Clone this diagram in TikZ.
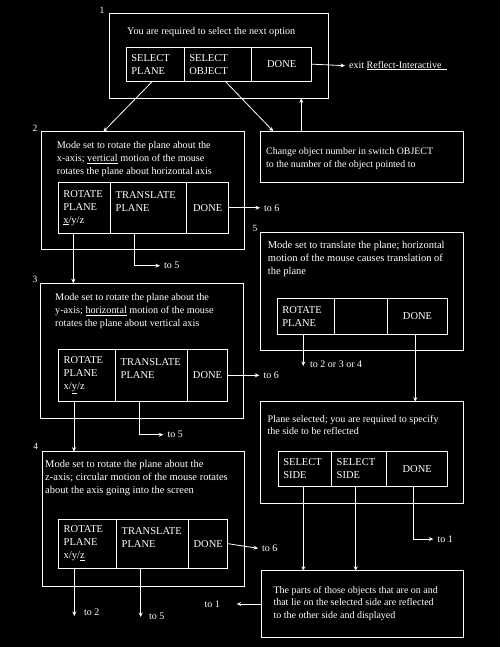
\documentclass[tikz,border=0pt]{standalone}
\usepackage{fontspec}
\setmainfont{Liberation Serif}
\usetikzlibrary{arrows.meta,positioning}
\definecolor{ink}{HTML}{FFFFFF}
\definecolor{paper}{HTML}{000000}
\tikzset{
  frame/.style   ={draw=ink,line width=0.8pt,anchor=north west,inner sep=0pt,outer sep=0pt},
  cell/.style    ={draw=ink,line width=0.8pt,inner xsep=5pt,inner ysep=0pt,outer sep=0pt,
                   align=left,text=ink,font=\fontsize{10.5}{13}\selectfont},
  donecell/.style={cell,inner xsep=2pt,align=center},
  txt/.style     ={text=ink,align=left,anchor=north west,inner sep=0pt,
                   font=\fontsize{10.2}{12.8}\selectfont},
  tag/.style     ={text=ink,anchor=west,inner xsep=4pt,inner ysep=1pt,
                   font=\fontsize{10}{11}\selectfont},
  num/.style     ={text=ink,inner sep=0pt,font=\fontsize{9.5}{11}\selectfont},
  link/.style    ={-{Stealth[length=4.5pt,width=4pt]},line width=0.8pt,draw=ink}
}

\begin{document}
\begin{tikzpicture}[x=1pt,y=-1pt]
        \fill[paper] (0,0) rectangle (500,647);
        % 1: main menu
        \node[num] (n1) at (102,10) {1};
        \node[frame,minimum width=219.4pt,minimum height=85pt] (b1) at (109.3,13.3) {};
        \node[txt] (t1) at (127,27.6) {You are required to select the next option};
        \node[cell,text width=48pt,minimum height=33.7pt,anchor=north west] (b1pl) at (126.3,47.3) {SELECT\\PLANE};
        \node[cell,text width=57.4pt,minimum height=33.7pt,right=0pt of b1pl] (b1ob) {SELECT\\OBJECT};
        \node[donecell,text width=56pt,minimum height=33.7pt,right=0pt of b1ob] (b1done) {DONE};
        \node[tag] (exit) at (345,65.7) {exit \underline{Reflect-Interactive\hspace{5pt}}};
        % change object
        \node[frame,minimum width=203pt,minimum height=51pt] (bc) at (260.3,131.3) {};
        \node[txt,font=\fontsize{9.9}{13.7}\selectfont] (tc) at (266,147.1)
          {Change object number in switch OBJECT\\to the number of the object pointed to};
        % 2: rotate about x
        \node[num] (n2) at (35,128) {2};
        \node[frame,minimum width=202.6pt,minimum height=117.3pt] (b2) at (41.7,131.7) {};
        \node[txt] (t2) at (56.7,141.3)
          {Mode set to rotate the plane about the\\x-axis; \underline{vertical} motion of the mouse\\rotates the plane about horizontal axis};
        \node[cell,text width=42.4pt,minimum height=51pt,anchor=north west] (b2rot) at (58.3,182.3) {ROTATE\\PLANE\\\underline{x}/y/z};
        \node[cell,text width=66pt,minimum height=51pt,right=0pt of b2rot] (b2tr) {TRANSLATE\\PLANE\\\mbox{}};
        \node[donecell,text width=38pt,minimum height=51pt,right=0pt of b2tr] (b2done) {DONE};
        \node[tag] (t26) at (260,207.8) {to 6};
        \node[tag] (t25) at (160,265.7) {to 5};
        % 5: translate
        \node[num] (n5) at (255,228) {5};
        \node[frame,minimum width=203pt,minimum height=117.3pt] (b5) at (260.7,232.7) {};
        \node[txt,font=\fontsize{10.5}{12.7}\selectfont] (t5) at (267.7,241.2)
          {Mode set to translate the plane; horizontal\\motion of the mouse causes translation of\\the plane};
        \node[cell,text width=47pt,minimum height=36pt,anchor=north west] (b5rot) at (277.3,298.3) {ROTATE\\PLANE};
        \node[cell,text width=43pt,minimum height=36pt,right=0pt of b5rot] (b5mid) {};
        \node[donecell,text width=56.4pt,minimum height=36pt,right=0pt of b5mid] (b5done) {DONE};
        \coordinate (e5) at (303.3,366);
        \node[tag] (t5r) at (306,364) {to 2 or 3 or 4};
        % 3: rotate about y
        \node[num] (n3) at (35,279) {3};
        \node[frame,minimum width=202.6pt,minimum height=134.7pt] (b3) at (40.7,283.3) {};
        \node[txt,font=\fontsize{10.2}{13}\selectfont] (t3) at (55,293.3)
          {Mode set to rotate the plane about the\\y-axis; \underline{horizontal} motion of the mouse\\rotates the plane about vertical axis};
        \node[cell,text width=47pt,minimum height=52pt,anchor=north west] (b3rot) at (58.7,349.3) {ROTATE\\PLANE\\x/\underline{y}/z};
        \node[cell,text width=61.6pt,minimum height=52pt,right=0pt of b3rot] (b3tr) {TRANSLATE\\PLANE\\\mbox{}};
        \node[donecell,text width=36.4pt,minimum height=52pt,right=0pt of b3tr] (b3done) {DONE};
        \node[tag] (t36) at (259.3,375.3) {to 6};
        \node[tag] (t35) at (163.3,434.7) {to 5};
        % plane selected
        \node[frame,minimum width=203pt,minimum height=101.3pt] (b6) at (260.7,401.7) {};
        \node[txt,font=\fontsize{10.1}{12.4}\selectfont] (t6) at (267.3,415.2)
          {Plane selected; you are required to specify\\the side to be reflected};
        \node[cell,text width=43.4pt,minimum height=35pt,anchor=north west] (b6s1) at (278.3,451.3) {SELECT\\SIDE};
        \node[cell,text width=45pt,minimum height=35pt,right=0pt of b6s1] (b6s2) {SELECT\\SIDE};
        \node[donecell,text width=57pt,minimum height=35pt,right=0pt of b6s2] (b6done) {DONE};
        \node[tag] (t61) at (433.3,539) {to 1};
        % 4: rotate about z
        \node[num] (n4) at (35.7,446.7) {4};
        \node[frame,minimum width=202.4pt,minimum height=134.3pt] (b4) at (42.3,451.7) {};
        \node[txt,font=\fontsize{10.5}{13}\selectfont] (t4) at (45,460.5)
          {Mode set to rotate the plane about the\\z-axis; circular motion of the mouse rotates\\about the axis going into the screen};
        \node[cell,text width=48pt,minimum height=48.7pt,anchor=north west] (b4rot) at (58.7,519.3) {ROTATE\\PLANE\\x/y/\underline{z}};
        \node[cell,text width=62pt,minimum height=48.7pt,right=0pt of b4rot] (b4tr) {TRANSLATE\\PLANE\\\mbox{}};
        \node[donecell,text width=35pt,minimum height=48.7pt,right=0pt of b4tr] (b4done) {DONE};
        \node[tag] (t46) at (258,548.3) {to 6};
        \coordinate (e42) at (74.3,616);
        \node[tag] (t42) at (80,612.7) {to 2};
        \coordinate (e45) at (140.7,617);
        \node[tag] (t45) at (145,616) {to 5};
        % reflected
        \node[frame,minimum width=202pt,minimum height=66.6pt] (b7) at (261.7,570.7) {};
        \node[txt,font=\fontsize{10}{12.2}\selectfont] (t7) at (273.3,586.4)
          {The parts of those objects that are on and\\that lie on the selected side are reflected\\to the other side and displayed};
        \coordinate (e71) at (236.7,604);
        \node[tag,anchor=east] (t71) at (224,604) {to 1};
        % connectors
        \draw[link] (b1done.east) -- (exit.west);
        \draw[link] ([xshift=-2.6pt]b1pl.south) -- ([xshift=61.6pt]b2.north west);
        \draw[link] ([xshift=7pt]b1ob.south) -- ([xshift=13pt]bc.north west);
        \draw[link] ([xshift=41pt]bc.north west) -- ([xshift=41pt]bc.north west |- b1.south);
        \draw[link] (b2done.east) -- (t26.west);
        \draw[link] ([xshift=-11.2pt]b2rot.south) -- ([xshift=-11.2pt]b2rot.south |- b3.north);
        \draw[link] ([xshift=-14.4pt]b2tr.south) |- (t25.west);
        \draw[link] ([xshift=-2.5pt]b5rot.south) -- (e5);
        \draw[link] ([xshift=-2.2pt]b5done.south) -- ([xshift=-2.2pt]b5done.south |- b6.north);
        \draw[link] (b3done.east) -- (t36.west);
        \draw[link] ([xshift=-13.2pt]b3rot.south) -- ([xshift=-13.2pt]b3rot.south |- b4.north);
        \draw[link] ([xshift=-12.2pt]b3tr.south) |- (t35.west);
        \draw[link] ([xshift=-1.7pt]b6s1.south) -- ([xshift=-1.7pt]b6s1.south |- b7.north);
        \draw[link] ([xshift=-3.5pt]b6s2.south) -- ([xshift=-3.5pt]b6s2.south |- b7.north);
        \draw[link] ([xshift=-4pt]b6done.south) |- (t61.west);
        \draw[link] (b4done.east) -- (t46.west);
        \draw[link] ([xshift=-13.4pt]b4rot.south) -- (e42);
        \draw[link] ([xshift=-12pt]b4tr.south) -- (e45);
        \draw[link] (b7.west) -- (e71);
      \end{tikzpicture}
\end{document}
